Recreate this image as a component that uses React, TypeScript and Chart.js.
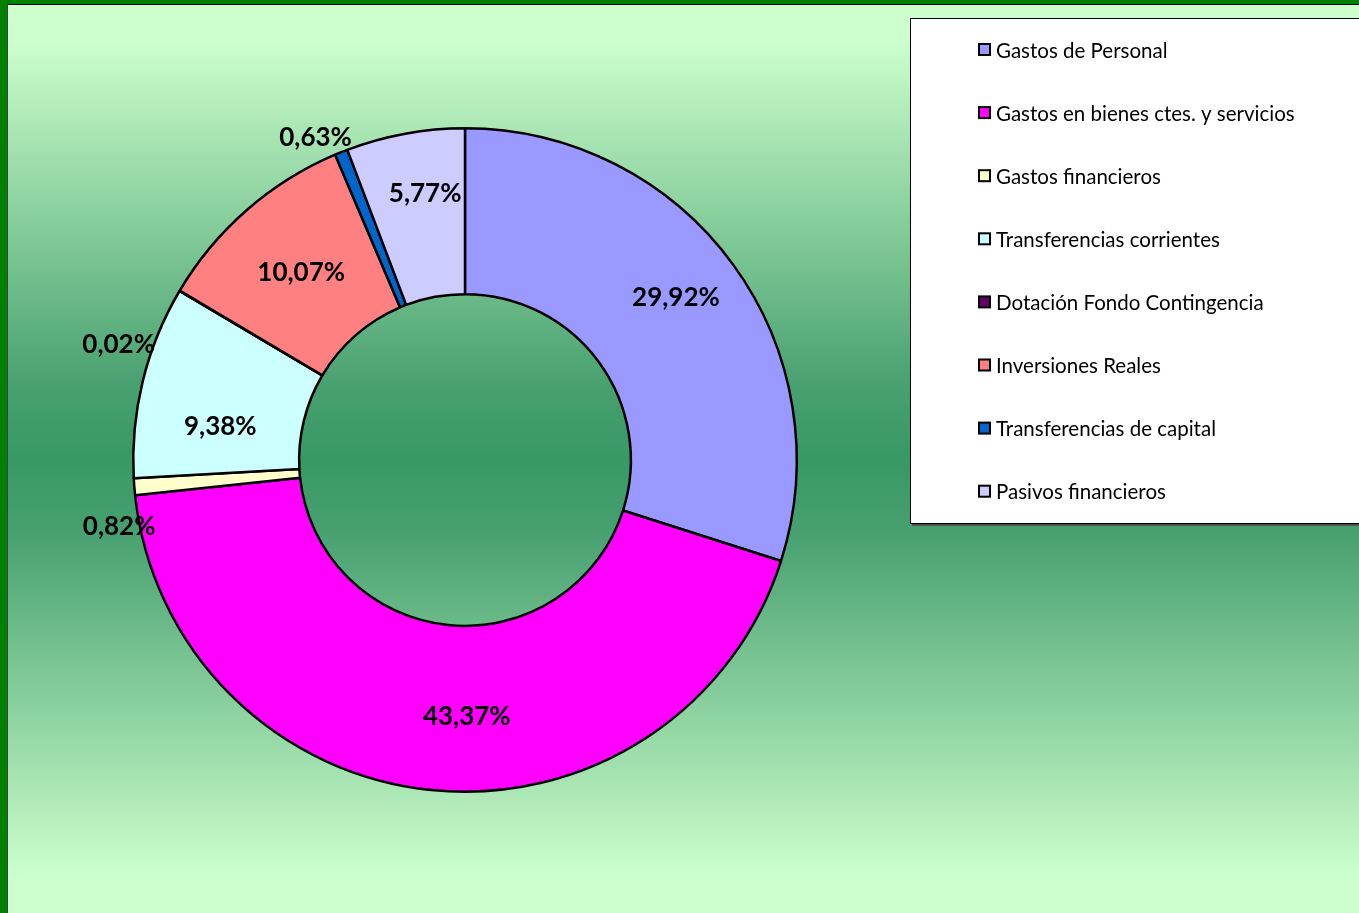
import React, { useEffect, useRef } from "react";
import { Chart, registerables } from "chart.js";

Chart.register(...registerables);

const categories = [
  "Gastos de Personal",
  "Gastos en bienes ctes. y servicios",
  "Gastos financieros",
  "Transferencias corrientes",
  "Dotación Fondo Contingencia",
  "Inversiones Reales",
  "Transferencias de capital",
  "Pasivos financieros",
];
const percentages = [29.92, 43.37, 0.82, 9.38, 0.02, 10.07, 0.63, 5.77];
const colors = ["#9999ff", "#ff00ff", "#ffffcc", "#ccffff", "#660066", "#ff8080", "#0066cc", "#ccccff"];
// small label nudges (px) to mimic the original label placement
const labelNudgeX = [10, 27, 8, -3, -41, 0, -17, 5];
const labelNudgeY = [-16, 9, 38, 26, 66, 0, 7, -22];

const fmt = (v: number) => v.toFixed(2).replace(".", ",") + "%";

const gradientStops: [number, string][] = [
  [0, "#ccffcc"],
  [0.04, "#ccffcc"],
  [0.42, "#48a070"],
  [0.5, "#389966"],
  [0.58, "#48a070"],
  [0.96, "#ccffcc"],
  [1, "#ccffcc"],
];

const backgroundPlugin = {
  id: "bgPlugin",
  beforeDraw(chart: any) {
    const { ctx, width, height } = chart;
    ctx.save();
    ctx.fillStyle = "#008000";
    ctx.fillRect(0, 0, width, height);
    const g = ctx.createLinearGradient(0, 5, 0, height);
    gradientStops.forEach(([o, c]) => g.addColorStop(o, c));
    ctx.fillStyle = g;
    ctx.fillRect(8, 5, width - 8, height - 5);
    ctx.fillStyle = "#000000";
    ctx.fillRect(7, 4, width - 7, 1);
    ctx.fillStyle = "#404040";
    ctx.fillRect(7, 4, 1, height - 4);
    ctx.restore();
  },
};

const labelPlugin = {
  id: "labelPlugin",
  afterDatasetsDraw(chart: any) {
    const { ctx } = chart;
    const meta = chart.getDatasetMeta(0);
    const values = chart.data.datasets[0].data as number[];
    ctx.save();
    ctx.font = "bold 26px Lato, 'Noto Sans', sans-serif";
    ctx.fillStyle = "#000";
    ctx.textAlign = "center";
    ctx.textBaseline = "middle";
    meta.data.forEach((arc: any, i: number) => {
      const a = (arc.startAngle + arc.endAngle) / 2;
      const v = values[i];
      const r = v < 1 ? arc.outerRadius * 1.07 : (arc.innerRadius + arc.outerRadius) / 2;
      const x = arc.x + Math.cos(a) * r + labelNudgeX[i];
      const y = arc.y + Math.sin(a) * r + labelNudgeY[i];
      ctx.fillText(fmt(v), x, y);
    });
    ctx.restore();
  },
};

const legendPlugin = {
  id: "legendBox",
  afterDraw(chart: any) {
    const { ctx, width } = chart;
    const labels = chart.data.labels as string[];
    const bg = chart.data.datasets[0].backgroundColor as string[];
    const bx = 910, by = 18, bh = 505;
    ctx.save();
    ctx.fillStyle = "#505050";
    ctx.fillRect(bx + 2, by + 2, width - bx, bh + 1);
    ctx.fillStyle = "#ffffff";
    ctx.fillRect(bx, by, width - bx, bh);
    ctx.strokeStyle = "#000";
    ctx.lineWidth = 1;
    ctx.strokeRect(bx + 0.5, by + 0.5, width - bx + 5, bh);
    ctx.font = "20.5px Lato, 'Noto Sans', sans-serif";
    ctx.textBaseline = "middle";
    ctx.textAlign = "left";
    labels.forEach((lab, i) => {
      const y = 50 + i * 63.1;
      ctx.fillStyle = bg[i];
      ctx.fillRect(979, y - 6, 11, 11);
      ctx.lineWidth = 2;
      ctx.strokeStyle = "#000";
      ctx.strokeRect(979, y - 6, 11, 11);
      ctx.fillStyle = "#000";
      ctx.fillText(lab, 996, y + 1);
    });
    ctx.restore();
  },
};

export default function App() {
  const ref = useRef<HTMLCanvasElement | null>(null);
  useEffect(() => {
    if (!ref.current) return;
    const chart = new Chart(ref.current, {
      type: "doughnut",
      data: {
        labels: categories,
        datasets: [
          {
            data: percentages,
            backgroundColor: colors,
            borderColor: "#000000",
            borderWidth: 2.5,
          },
        ],
      },
      options: {
        responsive: false,
        animation: false,
        cutout: "50%",
        layout: { padding: { left: 132, right: 561, top: 127, bottom: 120 } },
        plugins: {
          legend: { display: false },
          tooltip: { enabled: false },
        },
      },
      plugins: [backgroundPlugin, labelPlugin, legendPlugin],
    });
    return () => chart.destroy();
  }, []);
  return (
    <div style={{ position: "fixed", left: 0, top: 0, width: 1359, height: 913 }}>
      <canvas ref={ref} width={1359} height={913} />
    </div>
  );
}
